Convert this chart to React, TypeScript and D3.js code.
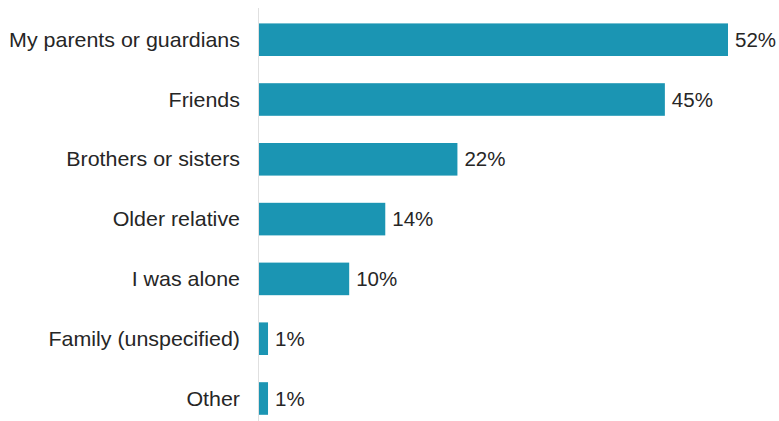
import React from "react";
import * as d3 from "d3";

const categories = [
  "My parents or guardians",
  "Friends",
  "Brothers or sisters",
  "Older relative",
  "I was alone",
  "Family (unspecified)",
  "Other",
];
const values = [52, 45, 22, 14, 10, 1, 1];

export default function App() {
  const width = 779;
  const height = 421;
  const x0 = 259;
  const x = d3.scaleLinear().domain([0, 52]).range([x0, 728]);
  const y = d3
    .scaleBand<string>()
    .domain(categories)
    .range([9.8, 9.8 + 59.8 * 7])
    .paddingInner(0.455)
    .paddingOuter(0.2275);
  return (
    <svg
      width={width}
      height={height}
      style={{ position: "absolute", left: 0, top: 0, fontFamily: "Liberation Sans, Arial, sans-serif" }}
    >
      <line x1={258.5} x2={258.5} y1={8} y2={height} stroke="#e0e0e0" strokeWidth={1} />
      {categories.map((c, i) => {
        const yy = y(c)!;
        const cy = yy + y.bandwidth() / 2;
        return (
          <g key={c}>
            <rect
              x={x(0)}
              y={yy}
              width={x(values[i]) - x(0)}
              height={y.bandwidth()}
              fill="#1b95b3"
            />
            <text
              x={240}
              y={cy}
              dy="0.35em"
              textAnchor="end"
              fontSize={20.5}
              fill="#262626"
              transform={`translate(240,0) scale(1.045,1) translate(-240,0)`}
            >
              {c}
            </text>
            <text x={x(values[i]) + 7} y={cy} dy="0.35em" textAnchor="start" fontSize={20.5} fill="#262626">
              {values[i] + "%"}
            </text>
          </g>
        );
      })}
    </svg>
  );
}
